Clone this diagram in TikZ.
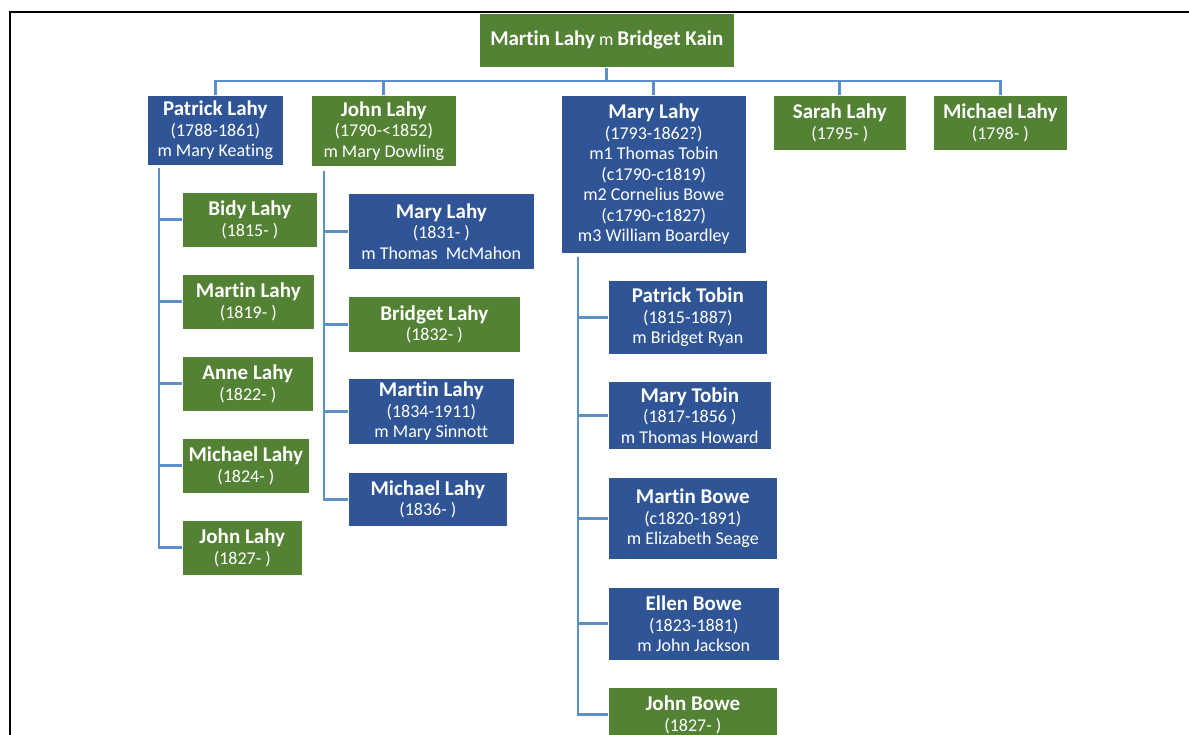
\documentclass[tikz,border=0pt]{standalone}
\usepackage{fontspec}
\setmainfont[Ligatures={NoCommon}]{Carlito}
\definecolor{boxgreen}{HTML}{548235}
\definecolor{boxblue}{HTML}{2F5597}
\definecolor{linkblue}{HTML}{5A8FCB}
\newcommand{\pname}{\fontsize{21}{22}\selectfont\bfseries}
\begin{document}
\begin{tikzpicture}[x=1pt,y=-1pt,
  person/.style={rectangle, draw=white, line width=0.6pt, text=white, inner sep=0pt,
    align=center, font=\fontsize{18}{20.5}\selectfont, anchor=north west},
  gbox/.style={person, fill=boxgreen},
  bbox/.style={person, fill=boxblue},
  link/.style={draw=linkblue, line width=2.7pt},
  frame/.style={draw=black, line width=1.4pt}]
\useasboundingbox (0,0) rectangle (1189,735);
\clip (0,0) rectangle (1189,735);
\draw[frame] (10,740) -- (10,12) -- (1195,12);

% generation 0
\node[gbox, minimum width=255pt, minimum height=54pt] (root) at (479,13)
  {{\pname Martin Lahy} m {\pname Bridget Kain}};

% generation 1
\node[bbox, minimum width=136pt, minimum height=70pt] (pat) at (147,95)
  {{\pname Patrick Lahy}\\(1788-1861)\\m Mary Keating};
\node[gbox, minimum width=145pt, minimum height=71pt] (john) at (311,95)
  {{\pname John Lahy}\\(1790-<1852)\\m Mary Dowling};
\node[bbox, minimum width=185pt, minimum height=158pt] (mary) at (561,95)
  {{\pname Mary Lahy}\\(1793-1862?)\\m1 Thomas Tobin\\(c1790-c1819)\\m2 Cornelius Bowe\\(c1790-c1827)\\m3 William Boardley};
\node[gbox, minimum width=133pt, minimum height=55pt] (sarah) at (773,95)
  {{\pname Sarah Lahy}\\(1795- )};
\node[gbox, minimum width=134pt, minimum height=55pt] (mich) at (933,95)
  {{\pname Michael Lahy}\\(1798- )};

% children of Patrick
\node[gbox, minimum width=135pt, minimum height=55pt] (bidy) at (182,192)
  {{\pname Bidy Lahy}\\(1815- )};
\node[gbox, minimum width=132pt, minimum height=55pt] (martP) at (182,274)
  {{\pname Martin Lahy}\\(1819- )};
\node[gbox, minimum width=131pt, minimum height=55pt] (anne) at (182,356)
  {{\pname Anne Lahy}\\(1822- )};
\node[gbox, minimum width=127pt, minimum height=55pt] (michP) at (182,438)
  {{\pname Michael Lahy}\\(1824- )};
\node[gbox, minimum width=120pt, minimum height=55pt] (johnP) at (182,520)
  {{\pname John Lahy}\\(1827- )};

% children of John
\node[bbox, minimum width=186pt, minimum height=76pt] (maryJ) at (348,193)
  {{\pname Mary Lahy}\\(1831- )\\m Thomas\ \ McMahon};
\node[gbox, minimum width=172pt, minimum height=56pt] (bridJ) at (348,296)
  {{\pname Bridget Lahy}\\(1832- )};
\node[bbox, minimum width=166pt, minimum height=66pt] (martJ) at (348,378)
  {{\pname Martin Lahy}\\(1834-1911)\\m Mary Sinnott};
\node[bbox, minimum width=159pt, minimum height=54pt] (michJ) at (348,472)
  {{\pname Michael Lahy}\\(1836- )};

% children of Mary
\node[bbox, minimum width=159pt, minimum height=74pt] (patT) at (608,280)
  {{\pname Patrick Tobin}\\(1815-1887)\\m Bridget Ryan};
\node[bbox, minimum width=163pt, minimum height=68pt] (maryT) at (608,381)
  {{\pname Mary Tobin}\\(1817-1856 )\\m Thomas Howard};
\node[bbox, minimum width=169pt, minimum height=82pt] (martB) at (608,477)
  {{\pname Martin Bowe}\\(c1820-1891)\\m Elizabeth Seage};
\node[bbox, minimum width=171pt, minimum height=73pt] (ellB) at (608,587)
  {{\pname Ellen Bowe}\\(1823-1881)\\m John Jackson};
\node[gbox, minimum width=169pt, minimum height=55pt] (johnB) at (608,687)
  {{\pname John Bowe}\\(1827- )};

% connectors: generation 0 to 1
\foreach \c in {pat,john,mary,sarah,mich}
  \draw[link] (\c.north) -- ++(0,-14) -| (root.south);

% connectors: Patrick's children
\foreach \c in {bidy,martP,anne,michP,johnP}
  \draw[link] ([xshift=12pt,yshift=-2pt]pat.south west) |- (\c.west);
% connectors: John's children
\foreach \c in {maryJ,bridJ,martJ,michJ}
  \draw[link] ([xshift=13pt,yshift=-4pt]john.south west) |- (\c.west);
% connectors: Mary's children
\foreach \c in {patT,maryT,martB,ellB,johnB}
  \draw[link] ([xshift=17pt,yshift=-3pt]mary.south west) |- (\c.west);
\end{tikzpicture}
\end{document}
